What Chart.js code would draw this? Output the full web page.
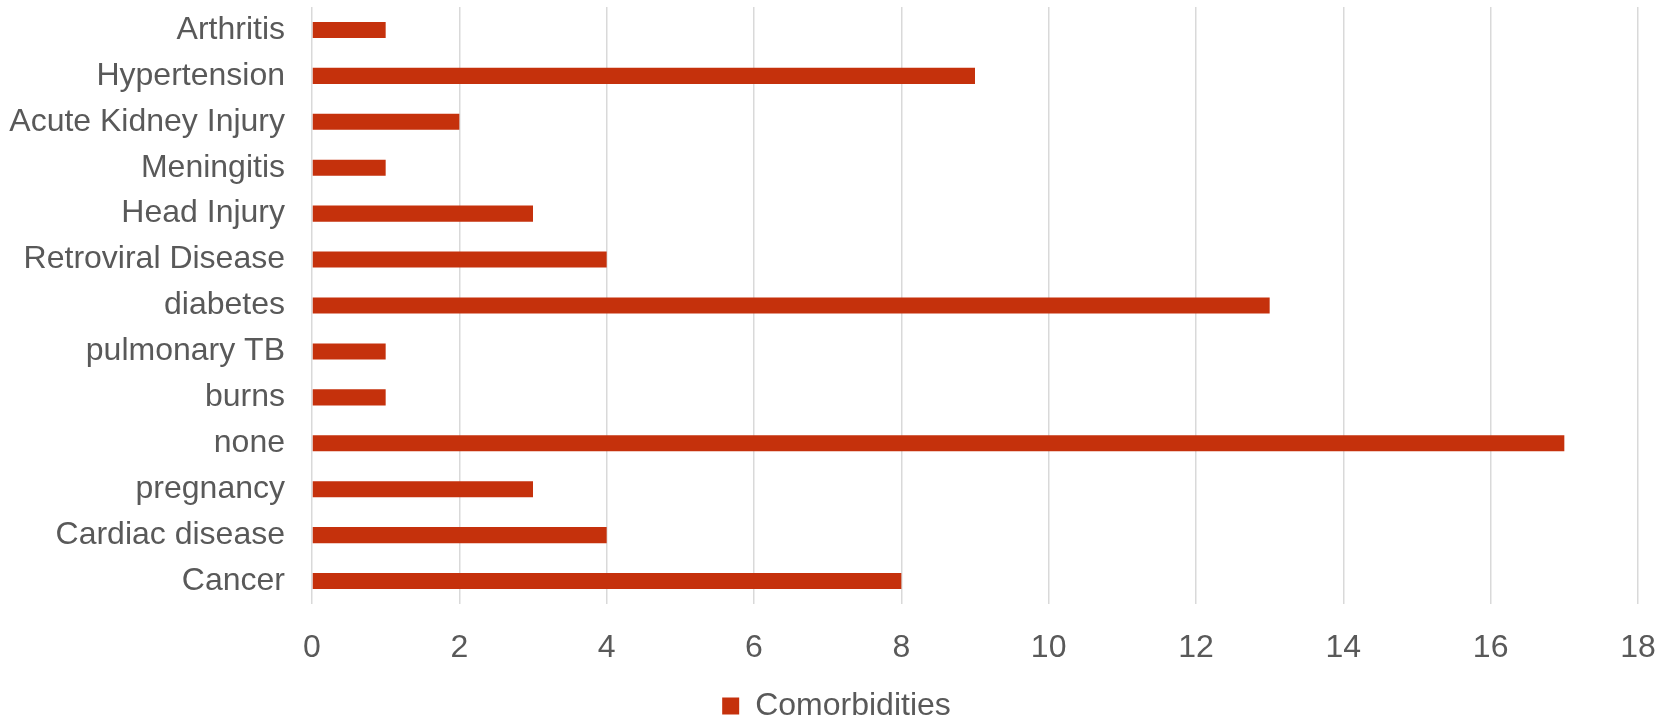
<!DOCTYPE html>
<html>
<head>
<meta charset="utf-8">
<script src="https://cdn.jsdelivr.net/npm/chart.js@4"></script>
<style>
  html, body { margin: 0; padding: 0; background: #ffffff; }
  #wrap { width: 1673px; height: 721px; position: relative; }
</style>
</head>
<body>
<div id="wrap"><canvas id="c"></canvas></div>
<script>
const categories = ["Arthritis", "Hypertension", "Acute Kidney Injury", "Meningitis", "Head Injury", "Retroviral Disease", "diabetes", "pulmonary TB", "burns", "none", "pregnancy", "Cardiac disease", "Cancer"];
const comorbidities = [1, 9, 2, 1, 3, 4, 13, 1, 1, 17, 3, 4, 8];
const seriesName = "Comorbidities";
const xMin = 0, xMax = 18, xStep = 2;

const FONT = "'Liberation Sans', Arial, sans-serif";
const TEXT = "#595959";
const BAR = "#C5310C";

new Chart(document.getElementById('c'), {
  type: 'bar',
  data: {
    labels: categories,
    datasets: [{
      label: seriesName,
      data: comorbidities,
      backgroundColor: BAR,
      borderWidth: 0,
      barPercentage: 0.35,
      categoryPercentage: 1.0
    }]
  },
  options: {
    indexAxis: 'y',
    responsive: true,
    maintainAspectRatio: false,
    devicePixelRatio: 1,
    animation: false,
    layout: { padding: { top: 7, left: 0, right: 0, bottom: -11 } },
    plugins: {
      tooltip: { enabled: false },
      legend: {
        position: 'bottom',
        labels: {
          boxWidth: 17,
          boxHeight: 17,
          padding: 25,
          color: TEXT,
          font: { family: FONT, size: 32 }
        }
      }
    },
    scales: {
      x: {
        min: xMin,
        max: xMax,
        ticks: {
          stepSize: xStep,
          color: TEXT,
          padding: 25,
          font: { family: FONT, size: 32 },
          maxRotation: 0
        },
        grid: { color: '#D9D9D9', lineWidth: 1.5, drawTicks: false },
        border: { display: false },
        afterFit: (scale) => {
          scale.height = 61;
          scale.paddingRight = 35;
        }
      },
      y: {
        ticks: {
          color: TEXT,
          padding: 27,
          font: { family: FONT, size: 32 },
          autoSkip: false
        },
        grid: { display: false, drawTicks: false },
        border: { display: false },
        afterFit: (scale) => {
          scale.width = 312;
          scale.paddingTop = 0;
          scale.paddingBottom = 0;
        }
      }
    }
  }
});
</script>
</body>
</html>
